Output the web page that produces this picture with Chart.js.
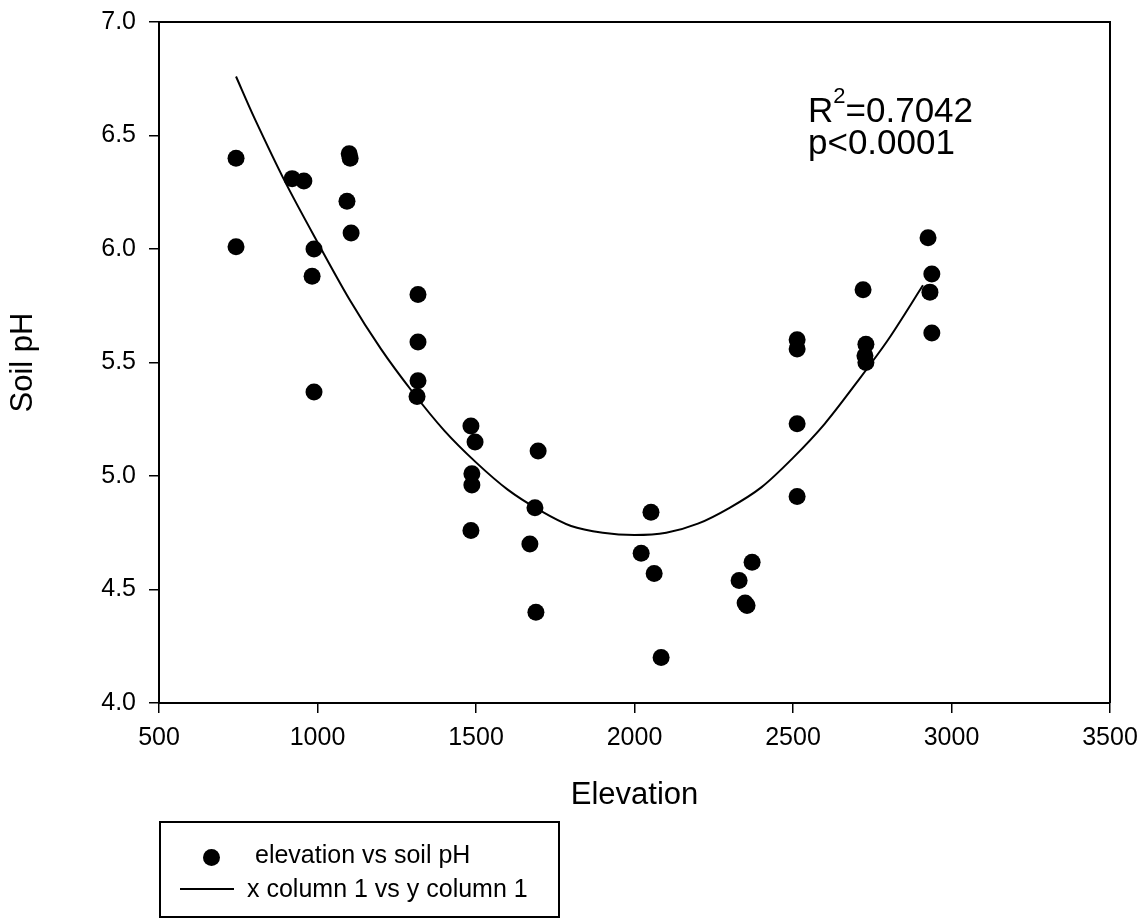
<!DOCTYPE html>
<html>
<head>
<meta charset="utf-8">
<script src="https://cdn.jsdelivr.net/npm/chart.js@4.4.1/dist/chart.umd.min.js"></script>
<style>
  html, body { margin: 0; padding: 0; background: #fff; }
  #wrap { position: relative; width: 1145px; height: 924px; font-family: "Liberation Sans", Arial, sans-serif; color: #000; }
  #c { position: absolute; left: 0; top: 0; }
  .ann { position: absolute; left: 808px; font-size: 35px; line-height: 35px; white-space: nowrap; }
  #legend { position: absolute; left: 159px; top: 821px; width: 401px; height: 97px; border: 2px solid #000; box-sizing: border-box; }
  .lg-text { position: absolute; font-size: 25px; line-height: 25px; white-space: nowrap; }
  #lg-dot { position: absolute; left: 42px; top: 26px; width: 17px; height: 17px; border-radius: 50%; background: #000; }
  #lg-line { position: absolute; left: 19px; top: 65px; width: 54px; height: 2px; background: #000; }
</style>
</head>
<body>
<div id="wrap">
  <canvas id="c" width="1145" height="924"></canvas>
  <div class="ann" style="top:92px;">R<span style="font-size:22px; position:relative; top:-19px;">2</span>=0.7042</div>
  <div class="ann" style="top:124px;">p&lt;0.0001</div>
  <div id="legend">
    <div id="lg-dot"></div>
    <div class="lg-text" style="left:94px; top:19px;">elevation vs soil pH</div>
    <div id="lg-line"></div>
    <div class="lg-text" style="left:86px; top:53px;">x column 1 vs y column 1</div>
  </div>
</div>
<script>
// Observed data: elevation vs soil pH
const elevation = [743, 743, 920, 957, 989, 983, 989, 1100, 1103, 1093, 1106,
  1317, 1317, 1317, 1314, 1484, 1497, 1487, 1487, 1484,
  1696, 1686, 1670, 1689, 2052, 2021, 2062, 2084,
  2371, 2330, 2349, 2355, 2513, 2513, 2513, 2513,
  2721, 2730, 2727, 2730, 2926, 2938, 2932, 2938];
const soilPH = [6.40, 6.01, 6.31, 6.30, 6.00, 5.88, 5.37, 6.42, 6.40, 6.21, 6.07,
  5.80, 5.59, 5.42, 5.35, 5.22, 5.15, 5.01, 4.96, 4.76,
  5.11, 4.86, 4.70, 4.40, 4.84, 4.66, 4.57, 4.20,
  4.62, 4.54, 4.44, 4.43, 5.23, 4.91, 5.60, 5.56,
  5.82, 5.58, 5.53, 5.50, 6.05, 5.89, 5.81, 5.63];

// Fitted curve (x column 1 vs y column 1)
const fitX = [743, 800, 900, 1000, 1100, 1200, 1300, 1400, 1500, 1600, 1700, 1800,
  1900, 2000, 2100, 2200, 2300, 2400, 2500, 2600, 2700, 2800, 2910];
const fitY = [6.76, 6.58, 6.29, 6.03, 5.78, 5.56, 5.37, 5.20, 5.06, 4.94, 4.85, 4.78,
  4.75, 4.74, 4.75, 4.79, 4.86, 4.95, 5.08, 5.23, 5.41, 5.60, 5.84];

// Tick labels
const xTicks = [500, 1000, 1500, 2000, 2500, 3000, 3500];
const yTicks = ['4.0', '4.5', '5.0', '5.5', '6.0', '6.5', '7.0'];

const pts = elevation.map((x, i) => ({ x: x, y: soilPH[i] }));
const fit = fitX.map((x, i) => ({ x: x, y: fitY[i] }));

const frame = {
  id: 'frame',
  afterDraw(chart) {
    const { ctx, chartArea: a } = chart;
    ctx.save();
    ctx.strokeStyle = '#000';
    ctx.lineWidth = 2;
    ctx.beginPath();
    ctx.moveTo(a.left, a.top);
    ctx.lineTo(a.right, a.top);
    ctx.lineTo(a.right, a.bottom);
    ctx.stroke();
    ctx.restore();
  }
};

const FONT = '"Liberation Sans", Arial, sans-serif';

new Chart(document.getElementById('c'), {
  type: 'scatter',
  data: {
    datasets: [
      {
        label: 'elevation vs soil pH',
        data: pts,
        showLine: false,
        pointRadius: 8.5,
        pointHoverRadius: 8.5,
        pointBackgroundColor: '#000',
        pointBorderColor: '#000',
        pointBorderWidth: 0
      },
      {
        label: 'x column 1 vs y column 1',
        data: fit,
        showLine: true,
        borderColor: '#000',
        borderWidth: 2,
        pointRadius: 0,
        fill: false,
        tension: 0.3
      }
    ]
  },
  plugins: [frame],
  options: {
    responsive: false,
    animation: false,
    events: [],
    layout: { padding: { left: 0, top: 22, right: 35, bottom: 108 } },
    plugins: { legend: { display: false }, tooltip: { enabled: false } },
    scales: {
      x: {
        type: 'linear',
        min: 500, max: 3500,
        afterBuildTicks(scale) { scale.ticks = xTicks.map(v => ({ value: v })); },
        afterFit(scale) { scale.height = 113; scale.paddingLeft = 0; scale.paddingRight = 0; },
        ticks: {
          color: '#000', padding: 10,
          font: { family: FONT, size: 25 },
          callback: v => String(v)
        },
        grid: { drawOnChartArea: false, drawTicks: true, tickLength: 10, color: '#000', lineWidth: 1.5 },
        border: { display: true, color: '#000', width: 2 },
        title: { display: true, text: 'Elevation', color: '#000', font: { family: FONT, size: 31 }, padding: { top: 0, bottom: 2 } }
      },
      y: {
        type: 'linear',
        min: 4, max: 7,
        afterBuildTicks(scale) { scale.ticks = yTicks.map(v => ({ value: parseFloat(v) })); },
        afterFit(scale) { scale.width = 159; scale.paddingTop = 0; scale.paddingBottom = 0; },
        ticks: {
          color: '#000', padding: 13,
          font: { family: FONT, size: 25 },
          callback: (v) => { const s = yTicks.find(t => parseFloat(t) === v); return s !== undefined ? s : v.toFixed(1); }
        },
        grid: { drawOnChartArea: false, drawTicks: true, tickLength: 10, color: '#000', lineWidth: 1.5 },
        border: { display: true, color: '#000', width: 2 },
        title: { display: true, text: 'Soil pH', color: '#000', font: { family: FONT, size: 31 }, padding: { top: 5, bottom: 0 } }
      }
    }
  }
});
</script>
</body>
</html>
